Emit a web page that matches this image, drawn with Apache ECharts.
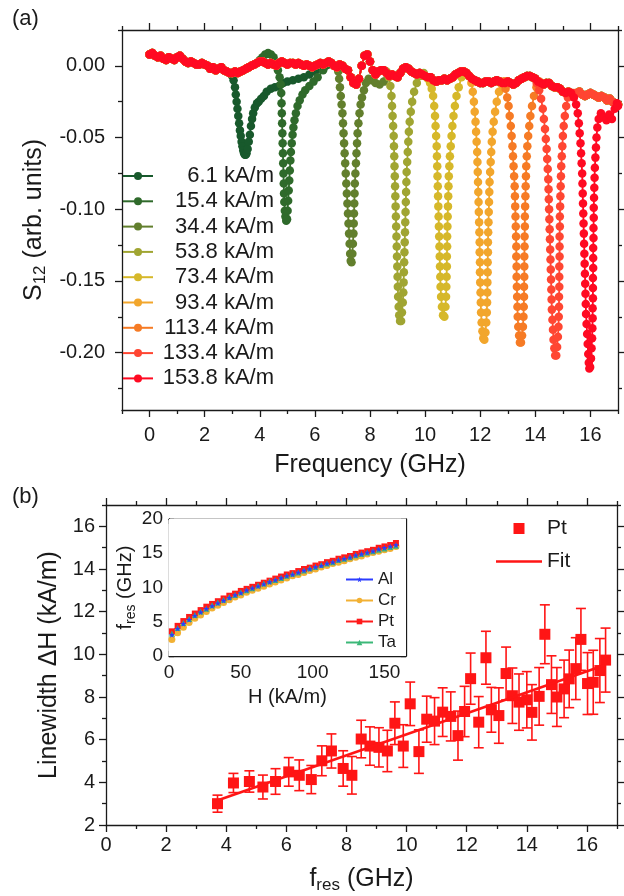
<!DOCTYPE html>
<html>
<head>
<meta charset="utf-8">
<script src="https://cdn.jsdelivr.net/npm/echarts@6/dist/echarts.min.js"></script>
<style>
  html, body { margin: 0; padding: 0; background: #fff; }
  #chart { width: 624px; height: 896px; }
</style>
</head>
<body>
<div id="chart"></div>
<script>
// ---------- panel (a): S12 vs frequency ----------
const fieldLabels = ['6.1 kA/m', '15.4 kA/m', '34.4 kA/m', '53.8 kA/m', '73.4 kA/m',
  '93.4 kA/m', '113.4 kA/m', '133.4 kA/m', '153.8 kA/m']
const fieldColors = ['#18592c', '#2f6a2b', '#627f2d', '#a0a532', '#d6b82a',
  '#f2a62c', '#f67b25', '#ff4632', '#ff0a22']

// off-resonance background, shared by all sweeps [GHz, S12]
const baseline = [
  [0.0, 0.008], [0.1, 0.009], [0.2, 0.007], [0.3, 0.006], [0.4, 0.007], [0.5, 0.005], [0.6, 0.004], [0.7, 0.006], [0.8, 0.005], [0.9, 0.004],
  [1.0, 0.006], [1.1, 0.007], [1.2, 0.005], [1.3, 0.003], [1.4, 0.002], [1.5, 0.003], [1.6, 0.002], [1.7, 0.001], [1.8, 0.001], [1.9, 0.002],
  [2.0, 0.001], [2.1, 0.000], [2.2, -0.002], [2.3, -0.001], [2.4, -0.003], [2.5, -0.002], [2.6, -0.001], [2.7, -0.003], [2.8, -0.004], [2.9, -0.005],
  [3.0, -0.005], [3.1, -0.004], [3.2, -0.005], [3.3, -0.004], [3.4, -0.003], [3.5, -0.002], [3.6, -0.001], [3.7, 0.000], [3.8, 0.001], [3.9, 0.002],
  [4.0, 0.003], [4.1, 0.003], [4.2, 0.002], [4.3, 0.001], [4.4, 0.002], [4.5, 0.001], [4.6, 0.000], [4.7, 0.002], [4.8, 0.003], [4.9, 0.002],
  [5.0, 0.001], [5.1, 0.002], [5.2, 0.002], [5.3, 0.001], [5.4, 0.002], [5.5, 0.001], [5.6, 0.000], [5.7, 0.001], [5.8, 0.000], [5.9, -0.001],
  [6.0, 0.000], [6.1, 0.001], [6.2, 0.002], [6.3, 0.001], [6.4, 0.002], [6.5, 0.003], [6.6, 0.002], [6.7, 0.000], [6.8, -0.001], [6.9, 0.001],
  [7.0, 0.000], [7.1, -0.002], [7.2, -0.003], [7.3, -0.008], [7.4, -0.012], [7.5, -0.013], [7.6, -0.009], [7.7, 0.000], [7.8, 0.007], [7.9, 0.008],
  [8.0, 0.003], [8.1, -0.003], [8.2, -0.006], [8.3, -0.004], [8.4, -0.003], [8.5, -0.003], [8.6, -0.005], [8.7, -0.007], [8.8, -0.006], [8.9, -0.007],
  [9.0, -0.008], [9.1, -0.005], [9.2, -0.002], [9.3, -0.001], [9.4, -0.002], [9.5, -0.004], [9.6, -0.005], [9.7, -0.006], [9.8, -0.005], [9.9, -0.006],
  [10.0, -0.007], [10.1, -0.008], [10.2, -0.008], [10.3, -0.010], [10.4, -0.011], [10.5, -0.010], [10.6, -0.010], [10.7, -0.009], [10.8, -0.010], [10.9, -0.009],
  [11.0, -0.008], [11.1, -0.006], [11.2, -0.005], [11.3, -0.004], [11.4, -0.004], [11.5, -0.005], [11.6, -0.007], [11.7, -0.009], [11.8, -0.010], [11.9, -0.011],
  [12.0, -0.012], [12.1, -0.012], [12.2, -0.011], [12.3, -0.011], [12.4, -0.012], [12.5, -0.011], [12.6, -0.010], [12.7, -0.011], [12.8, -0.012], [12.9, -0.012],
  [13.0, -0.011], [13.1, -0.012], [13.2, -0.013], [13.3, -0.012], [13.4, -0.010], [13.5, -0.009], [13.6, -0.008], [13.7, -0.007], [13.8, -0.007], [13.9, -0.008],
  [14.0, -0.009], [14.1, -0.011], [14.2, -0.012], [14.3, -0.013], [14.4, -0.012], [14.5, -0.012], [14.6, -0.014], [14.7, -0.015], [14.8, -0.015], [14.9, -0.016],
  [15.0, -0.018], [15.1, -0.019], [15.2, -0.018], [15.3, -0.019], [15.4, -0.020], [15.5, -0.019], [15.6, -0.018], [15.7, -0.020], [15.8, -0.021], [15.9, -0.020],
  [16.0, -0.019], [16.1, -0.020], [16.2, -0.021], [16.3, -0.022], [16.4, -0.021], [16.5, -0.022], [16.6, -0.024], [16.7, -0.023], [16.8, -0.025], [16.9, -0.026], [17.0, -0.027]
]

// resonance dips, one per field [GHz, S12]
const dip6_1 = [[2.95, -0.005], [3.0, -0.007], [3.05, -0.010], [3.1, -0.015], [3.13, -0.020], [3.16, -0.025], [3.19, -0.030], [3.22, -0.035],
  [3.25, -0.040], [3.28, -0.045], [3.31, -0.049], [3.34, -0.053], [3.37, -0.056], [3.40, -0.059], [3.43, -0.061], [3.46, -0.062], [3.49, -0.062],
  [3.52, -0.061], [3.56, -0.058], [3.60, -0.053], [3.64, -0.048], [3.68, -0.042], [3.72, -0.037], [3.76, -0.033], [3.82, -0.029], [3.90, -0.026],
  [3.96, -0.025], [4.05, -0.023], [4.15, -0.021], [4.25, -0.018], [4.40, -0.016], [4.55, -0.015], [4.70, -0.014], [4.85, -0.012], [5.0, -0.011],
  [5.2, -0.010], [5.4, -0.009], [5.6, -0.008], [5.8, -0.006], [6.0, -0.004], [6.2, -0.002], [6.4, 0.000]]
const dip15_4 = [[4.0, 0.004], [4.1, 0.006], [4.2, 0.008], [4.3, 0.009], [4.4, 0.008], [4.5, 0.006], [4.6, 0.002], [4.66, -0.003], [4.72, -0.008],
  [4.76, -0.013], [4.78, -0.019], [4.79, -0.026], [4.80, -0.033], [4.81, -0.040], [4.82, -0.047], [4.83, -0.054], [4.84, -0.061], [4.85, -0.068],
  [4.86, -0.075], [4.87, -0.082], [4.88, -0.089], [4.89, -0.095], [4.91, -0.101], [4.93, -0.105], [4.96, -0.108],
  [4.99, -0.107], [5.01, -0.101], [5.03, -0.094], [5.05, -0.087], [5.07, -0.080], [5.09, -0.073], [5.11, -0.066], [5.13, -0.060], [5.16, -0.054],
  [5.19, -0.048], [5.22, -0.043], [5.26, -0.038], [5.31, -0.033], [5.37, -0.028], [5.45, -0.024], [5.55, -0.020], [5.65, -0.017], [5.8, -0.014],
  [5.95, -0.011], [6.1, -0.008], [6.3, -0.003], [6.5, 0.001]]
const dip34_4 = [[6.8, -0.001], [6.85, -0.004], [6.88, -0.009], [6.91, -0.015], [6.94, -0.021], [6.97, -0.027], [7.0, -0.033], [7.02, -0.040],
  [7.04, -0.047], [7.06, -0.054], [7.08, -0.061], [7.10, -0.068], [7.12, -0.075], [7.14, -0.082], [7.16, -0.089], [7.18, -0.096], [7.20, -0.103],
  [7.22, -0.110], [7.24, -0.117], [7.26, -0.124], [7.28, -0.131], [7.30, -0.136],
  [7.33, -0.137], [7.36, -0.131], [7.38, -0.124], [7.40, -0.117], [7.41, -0.110], [7.42, -0.103], [7.43, -0.096], [7.44, -0.089], [7.45, -0.082],
  [7.47, -0.075], [7.49, -0.068], [7.51, -0.061], [7.53, -0.054], [7.55, -0.047], [7.58, -0.040], [7.62, -0.033], [7.66, -0.027], [7.71, -0.022],
  [7.78, -0.017], [7.85, -0.012], [7.95, -0.009], [8.05, -0.010], [8.2, -0.012], [8.35, -0.013], [8.5, -0.011], [8.65, -0.008]]
const dip53_8 = [[8.6, -0.004], [8.68, -0.008], [8.74, -0.014], [8.78, -0.021], [8.80, -0.028], [8.82, -0.035], [8.84, -0.042], [8.86, -0.049],
  [8.87, -0.056], [8.88, -0.063], [8.89, -0.070], [8.90, -0.077], [8.91, -0.084], [8.92, -0.091], [8.93, -0.098], [8.94, -0.105], [8.95, -0.112],
  [8.96, -0.119], [8.97, -0.126], [8.98, -0.133], [8.99, -0.140], [9.00, -0.147], [9.01, -0.154], [9.02, -0.161], [9.04, -0.168], [9.06, -0.174],
  [9.09, -0.178],
  [9.13, -0.178], [9.16, -0.172], [9.19, -0.165], [9.21, -0.158], [9.22, -0.151], [9.23, -0.144], [9.24, -0.137], [9.25, -0.130], [9.26, -0.123],
  [9.27, -0.116], [9.28, -0.109], [9.29, -0.102], [9.30, -0.095], [9.31, -0.088], [9.32, -0.081], [9.33, -0.074], [9.35, -0.067], [9.37, -0.060],
  [9.39, -0.053], [9.41, -0.046], [9.44, -0.039], [9.48, -0.032], [9.53, -0.025], [9.6, -0.018], [9.7, -0.012], [9.82, -0.007], [9.95, -0.005]]
const dip73_4 = [[10.1, -0.009], [10.18, -0.012], [10.24, -0.016], [10.29, -0.021], [10.33, -0.028], [10.36, -0.035], [10.38, -0.042],
  [10.40, -0.049], [10.42, -0.056], [10.43, -0.063], [10.44, -0.070], [10.45, -0.077], [10.46, -0.084], [10.47, -0.091], [10.48, -0.098],
  [10.49, -0.105], [10.50, -0.112], [10.51, -0.119], [10.52, -0.126], [10.53, -0.133], [10.54, -0.140], [10.55, -0.147], [10.56, -0.154],
  [10.58, -0.161], [10.61, -0.168], [10.65, -0.174],
  [10.70, -0.175], [10.74, -0.168], [10.76, -0.161], [10.77, -0.154], [10.78, -0.147], [10.79, -0.140], [10.79, -0.133], [10.80, -0.126],
  [10.80, -0.119], [10.81, -0.112], [10.82, -0.105], [10.83, -0.098], [10.84, -0.091], [10.85, -0.084], [10.86, -0.077], [10.88, -0.070],
  [10.90, -0.063], [10.93, -0.056], [10.96, -0.049], [10.99, -0.042], [11.03, -0.035], [11.08, -0.028], [11.14, -0.021], [11.22, -0.015],
  [11.32, -0.008], [11.42, -0.004]]
const dip93_4 = [[11.6, -0.007], [11.68, -0.012], [11.73, -0.018], [11.77, -0.025], [11.80, -0.032], [11.83, -0.039], [11.85, -0.046],
  [11.87, -0.053], [11.89, -0.060], [11.90, -0.067], [11.91, -0.074], [11.92, -0.081], [11.93, -0.088], [11.94, -0.095], [11.95, -0.102],
  [11.96, -0.109], [11.97, -0.116], [11.98, -0.123], [11.98, -0.130], [11.99, -0.137], [11.99, -0.144], [12.00, -0.151], [12.01, -0.158],
  [12.02, -0.165], [12.03, -0.172], [12.05, -0.179], [12.08, -0.185], [12.11, -0.190],
  [12.15, -0.191], [12.19, -0.186], [12.22, -0.179], [12.24, -0.172], [12.25, -0.165], [12.26, -0.158], [12.26, -0.151], [12.27, -0.144],
  [12.27, -0.137], [12.28, -0.130], [12.28, -0.123], [12.29, -0.116], [12.30, -0.109], [12.31, -0.102], [12.32, -0.095], [12.33, -0.088],
  [12.34, -0.081], [12.36, -0.074], [12.38, -0.067], [12.40, -0.060], [12.42, -0.053], [12.45, -0.046], [12.49, -0.039], [12.54, -0.032],
  [12.60, -0.025], [12.68, -0.018], [12.78, -0.013], [12.9, -0.011]]
const dip113_4 = [[12.85, -0.011], [12.92, -0.016], [12.98, -0.022], [13.03, -0.028], [13.07, -0.035], [13.11, -0.042], [13.14, -0.049],
  [13.17, -0.056], [13.19, -0.063], [13.21, -0.070], [13.23, -0.077], [13.25, -0.084], [13.26, -0.091], [13.27, -0.098], [13.28, -0.105],
  [13.29, -0.112], [13.30, -0.119], [13.31, -0.126], [13.31, -0.133], [13.32, -0.140], [13.32, -0.147], [13.33, -0.154], [13.34, -0.161],
  [13.35, -0.168], [13.36, -0.175], [13.38, -0.182], [13.41, -0.188], [13.44, -0.193],
  [13.48, -0.193], [13.52, -0.188], [13.55, -0.182], [13.57, -0.175], [13.58, -0.168], [13.59, -0.161], [13.59, -0.154], [13.60, -0.147],
  [13.60, -0.140], [13.60, -0.133], [13.61, -0.126], [13.61, -0.119], [13.62, -0.112], [13.62, -0.105], [13.63, -0.098], [13.64, -0.091],
  [13.65, -0.084], [13.66, -0.077], [13.67, -0.070], [13.69, -0.063], [13.71, -0.056], [13.74, -0.049], [13.78, -0.042], [13.82, -0.035],
  [13.88, -0.028], [13.95, -0.021], [14.04, -0.015], [14.15, -0.011]]
const dip133_4 = [[14.05, -0.012], [14.14, -0.017], [14.21, -0.023], [14.27, -0.030], [14.31, -0.037], [14.35, -0.044], [14.38, -0.051],
  [14.41, -0.058], [14.43, -0.065], [14.45, -0.072], [14.47, -0.079], [14.48, -0.086], [14.49, -0.093], [14.50, -0.100], [14.51, -0.107],
  [14.52, -0.114], [14.53, -0.121], [14.54, -0.128], [14.55, -0.135], [14.56, -0.142], [14.57, -0.149], [14.58, -0.156], [14.59, -0.163],
  [14.60, -0.170], [14.62, -0.177], [14.64, -0.184], [14.66, -0.191], [14.69, -0.197], [14.72, -0.202],
  [14.76, -0.202], [14.79, -0.196], [14.82, -0.189], [14.84, -0.182], [14.85, -0.175], [14.86, -0.168], [14.86, -0.161], [14.87, -0.154],
  [14.87, -0.147], [14.87, -0.140], [14.88, -0.133], [14.88, -0.126], [14.88, -0.119], [14.89, -0.112], [14.89, -0.105], [14.90, -0.098],
  [14.91, -0.091], [14.92, -0.084], [14.93, -0.077], [14.94, -0.070], [14.96, -0.063], [14.98, -0.056], [15.00, -0.049], [15.03, -0.042],
  [15.07, -0.035], [15.12, -0.028], [15.18, -0.022], [15.28, -0.019], [15.4, -0.019]]
const dip153_8 = [[15.3, -0.019], [15.4, -0.022], [15.48, -0.027], [15.54, -0.033], [15.58, -0.040], [15.61, -0.047], [15.64, -0.054],
  [15.66, -0.061], [15.68, -0.068], [15.70, -0.075], [15.71, -0.082], [15.72, -0.089], [15.73, -0.096], [15.74, -0.103], [15.75, -0.110],
  [15.76, -0.117], [15.77, -0.124], [15.78, -0.131], [15.79, -0.138], [15.80, -0.145], [15.81, -0.152], [15.82, -0.159], [15.83, -0.166],
  [15.84, -0.173], [15.86, -0.180], [15.88, -0.187], [15.90, -0.194], [15.92, -0.201], [15.94, -0.207], [15.96, -0.211],
  [15.99, -0.210], [16.02, -0.204], [16.04, -0.197], [16.06, -0.190], [16.07, -0.183], [16.08, -0.176], [16.08, -0.169], [16.09, -0.162],
  [16.09, -0.155], [16.09, -0.148], [16.10, -0.141], [16.10, -0.134], [16.10, -0.127], [16.11, -0.120], [16.11, -0.113], [16.12, -0.106],
  [16.12, -0.099], [16.13, -0.092], [16.14, -0.085], [16.15, -0.078], [16.16, -0.071], [16.18, -0.064], [16.20, -0.057], [16.22, -0.050],
  [16.25, -0.043], [16.30, -0.037], [16.38, -0.033], [16.48, -0.036], [16.58, -0.038], [16.68, -0.034], [16.78, -0.037], [16.88, -0.030],
  [16.96, -0.026], [17.0, -0.028]]

const aXMajor = [0, 2, 4, 6, 8, 10, 12, 14, 16]
const aXMinor = [-1, 1, 3, 5, 7, 9, 11, 13, 15, 17]
const aYMajor = [-0.20, -0.15, -0.10, -0.05, 0.00]
const aYMinor = [-0.225, -0.175, -0.125, -0.075, -0.025, 0.025]

// ---------- panel (b): linewidth vs resonance frequency (Pt) ----------
const fresPt = [3.71, 4.24, 4.77, 5.22, 5.64, 6.08, 6.43, 6.83, 7.18, 7.5, 7.89, 8.18, 8.49, 8.78, 9.08, 9.36, 9.61, 9.89,
  10.12, 10.41, 10.67, 10.93, 11.2, 11.47, 11.71, 11.93, 12.13, 12.4, 12.64, 12.82, 13.07, 13.31, 13.52, 13.74, 14.0, 14.17,
  14.41, 14.6, 14.82, 15.0, 15.24, 15.41, 15.63, 15.8, 16.02, 16.21, 16.43, 16.62]
const dHPt = [3.0, 3.97, 4.04, 3.78, 4.04, 4.49, 4.33, 4.13, 5.01, 5.47, 4.65, 4.33, 6.03, 5.7, 5.64, 5.47, 6.77, 5.7,
  7.68, 5.44, 6.96, 6.87, 7.29, 7.09, 6.19, 7.32, 8.86, 6.82, 9.84, 7.4, 7.13, 9.1, 8.06, 7.76, 7.87, 7.28,
  8.03, 10.94, 8.58, 8.0, 8.38, 8.85, 9.33, 10.7, 8.63, 8.69, 9.24, 9.73]
const dHErr = [0.4, 0.45, 0.5, 0.56, 0.6, 0.67, 0.72, 0.66, 0.7, 0.8, 0.83, 0.88, 0.88, 0.9, 0.92, 0.97, 1.0, 1.0,
  1.02, 1.02, 1.08, 1.1, 1.14, 1.15, 1.15, 1.18, 1.2, 1.2, 1.24, 1.05, 1.3, 1.24, 1.3, 1.32, 1.32, 1.3,
  1.35, 1.38, 1.35, 1.38, 1.35, 1.35, 1.45, 1.45, 1.45, 1.5, 1.5, 1.5]
const fitF = [3.7, 16.6]
const fitDH = [3.15, 9.5]

const bXMajor = [0, 2, 4, 6, 8, 10, 12, 14, 16]
const bXMinor = [1, 3, 5, 7, 9, 11, 13, 15, 17]
const bYMajor = [2, 4, 6, 8, 10, 12, 14, 16]
const bYMinor = [3, 5, 7, 9, 11, 13, 15, 17]

// ---------- inset: f_res vs H ----------
const insetH = [2, 6, 10, 14, 18, 22, 26, 30, 34, 38, 42, 46, 50, 54, 58, 62, 66, 70, 74, 78,
  82, 86, 90, 94, 98, 102, 106, 110, 114, 118, 122, 126, 130, 134, 138, 142, 146, 150, 154, 158]
const fAl = [3.1, 4.0, 4.7, 5.3, 5.9, 6.4, 6.9, 7.3, 7.7, 8.1, 8.5, 8.9, 9.2, 9.6, 9.9, 10.2, 10.5, 10.8, 11.1, 11.4,
  11.7, 11.9, 12.2, 12.5, 12.7, 13.0, 13.2, 13.5, 13.7, 14.0, 14.2, 14.4, 14.7, 14.9, 15.1, 15.3, 15.6, 15.8, 16.0, 16.2]
const fCr = [2.4, 3.4, 4.2, 4.9, 5.5, 6.0, 6.5, 7.0, 7.4, 7.8, 8.2, 8.6, 8.9, 9.3, 9.6, 9.9, 10.2, 10.5, 10.8, 11.1,
  11.4, 11.7, 11.9, 12.2, 12.5, 12.7, 13.0, 13.2, 13.5, 13.7, 13.9, 14.2, 14.4, 14.6, 14.9, 15.1, 15.3, 15.5, 15.7, 16.0]
const fPt = [3.6, 4.4, 5.1, 5.7, 6.2, 6.7, 7.2, 7.6, 8.0, 8.4, 8.8, 9.1, 9.5, 9.8, 10.1, 10.4, 10.7, 11.0, 11.3, 11.6,
  11.9, 12.1, 12.4, 12.7, 12.9, 13.2, 13.4, 13.7, 13.9, 14.2, 14.4, 14.6, 14.9, 15.1, 15.3, 15.5, 15.8, 16.0, 16.2, 16.5]
const fTa = [3.3, 4.1, 4.8, 5.4, 6.0, 6.5, 6.9, 7.4, 7.8, 8.2, 8.6, 8.9, 9.3, 9.6, 9.9, 10.3, 10.6, 10.9, 11.1, 11.4,
  11.7, 12.0, 12.2, 12.5, 12.8, 13.0, 13.3, 13.5, 13.7, 14.0, 14.2, 14.4, 14.7, 14.9, 15.1, 15.3, 15.5, 15.7, 15.9, 16.1]

const inXMajor = [0, 50, 100, 150]
const inXMinor = [25, 75, 125]
const inYMajor = [0, 5, 10, 15, 20]
const inYMinor = [2.5, 7.5, 12.5, 17.5]

// ---------- styling ----------
const FONT = 'Liberation Sans, Arial, sans-serif'
const INK = '#1a1a1a'
const RED = '#ff1515'
const STAR = 'path://M50,0 L61,35 L98,35 L68,57 L79,91 L50,70 L21,91 L32,57 L2,35 L39,35 Z'

// four axes per side pair: main (labels + major ticks), minor ticks, mirrored major, mirrored minor
function frameAxes (dim, grid, min, max, majors, minors, o) {
  const sides = dim === 'x' ? ['bottom', 'top'] : ['left', 'right']
  const tickLine = { color: INK, width: 1.3 }
  const axes = []
  sides.forEach((side, k) => {
    const label = { show: false }
    if (k === 0) {
      Object.assign(label, { show: true, customValues: majors, margin: o.margin, fontSize: o.fontSize, color: INK, fontFamily: FONT })
      if (o.fmt) label.formatter = o.fmt
    }
    axes.push({
      gridIndex: grid, type: 'value', position: side, min: min, max: max,
      axisLine: { show: true, onZero: false, lineStyle: { color: INK, width: 1.3 } },
      axisTick: { show: true, inside: o.inside, length: o.major, customValues: majors, lineStyle: tickLine },
      axisLabel: label,
      splitLine: { show: false },
      name: k === 0 ? o.name : '',
      nameLocation: 'middle',
      nameGap: o.nameGap,
      nameTextStyle: o.nameStyle
    })
    axes.push({
      gridIndex: grid, type: 'value', position: side, min: min, max: max,
      axisLine: { show: false, onZero: false },
      axisTick: { show: true, inside: o.inside, length: o.minor, customValues: minors, lineStyle: tickLine },
      axisLabel: { show: false },
      splitLine: { show: false }
    })
  })
  return axes
}

function subRich (size, subSize, drop) {
  return {
    rich: {
      m: { fontSize: size, fontFamily: FONT, color: INK, lineHeight: size + 4 },
      s: { fontSize: subSize, fontFamily: FONT, color: INK, lineHeight: subSize, verticalAlign: 'bottom', padding: [drop, 0, 0, 0] }
    }
  }
}

// ---------- series ----------
const dips = [dip6_1, dip15_4, dip34_4, dip53_8, dip73_4, dip93_4, dip113_4, dip133_4, dip153_8]
const sweepSeries = fieldLabels.map((label, i) => {
  const dip = dips[i]
  const lo = dip[0][0]
  const hi = dip[dip.length - 1][0]
  const data = baseline.filter(p => p[0] < lo).concat(dip, baseline.filter(p => p[0] > hi))
  return {
    name: label, type: 'line', xAxisIndex: 0, yAxisIndex: 0, data: data,
    symbol: 'circle', symbolSize: 8.5, showSymbol: true, showAllSymbol: true,
    itemStyle: { color: fieldColors[i] },
    lineStyle: { color: fieldColors[i], width: 1.8 },
    emphasis: { disabled: true }
  }
})

function renderErrorBar (params, api) {
  const top = api.coord([api.value(0), api.value(2)])
  const bottom = api.coord([api.value(0), api.value(1)])
  const cap = 5
  const style = { stroke: RED, lineWidth: 1.6 }
  return {
    type: 'group',
    children: [
      { type: 'line', shape: { x1: top[0], y1: top[1], x2: bottom[0], y2: bottom[1] }, style: style },
      { type: 'line', shape: { x1: top[0] - cap, y1: top[1], x2: top[0] + cap, y2: top[1] }, style: style },
      { type: 'line', shape: { x1: bottom[0] - cap, y1: bottom[1], x2: bottom[0] + cap, y2: bottom[1] }, style: style }
    ]
  }
}

const insetSpecs = [
  { name: 'Cr', values: fCr, color: '#f2b134', symbol: 'circle', size: 7 },
  { name: 'Pt', values: fPt, color: '#ff1a1a', symbol: 'rect', size: 6 },
  { name: 'Ta', values: fTa, color: '#3cb878', symbol: 'triangle', size: 6 },
  { name: 'Al', values: fAl, color: '#2b3cff', symbol: STAR, size: 6 }
]
const insetSeries = insetSpecs.map(s => ({
  name: s.name, type: 'line', xAxisIndex: 8, yAxisIndex: 8,
  data: insetH.map((h, i) => [h, s.values[i]]),
  symbol: s.symbol, symbolSize: s.size, showSymbol: true, showAllSymbol: true,
  itemStyle: { color: s.color }, lineStyle: { color: s.color, width: 1 },
  emphasis: { disabled: true }, z: 5
}))

const chart = echarts.init(document.getElementById('chart'), null, { renderer: 'canvas' })
chart.setOption({
  animation: false,
  backgroundColor: '#fff',
  textStyle: { fontFamily: FONT },
  title: [
    { text: '(a)', left: 12, top: 8, padding: 0, textStyle: { fontSize: 22, fontWeight: 'normal', color: INK, fontFamily: FONT } },
    { text: '(b)', left: 12, top: 486, padding: 0, textStyle: { fontSize: 22, fontWeight: 'normal', color: INK, fontFamily: FONT } }
  ],
  grid: [
    { left: 122, top: 30, width: 496, height: 380, outerBoundsMode: 'none' },
    { left: 106, top: 505, width: 511, height: 320, outerBoundsMode: 'none' },
    { left: 169, top: 519, width: 237, height: 137, show: true, backgroundColor: '#fff', borderWidth: 0, outerBoundsMode: 'none', z: 3 }
  ],
  xAxis: [].concat(
    frameAxes('x', 0, -1, 17, aXMajor, aXMinor, { inside: false, major: 7, minor: 4, margin: 15, fontSize: 20,
      name: 'Frequency (GHz)', nameGap: 43, nameStyle: { fontSize: 25, color: INK, fontFamily: FONT } }),
    frameAxes('x', 1, 0, 17, bXMajor, bXMinor, { inside: false, major: 7, minor: 4, margin: 10, fontSize: 20,
      name: '{m|f}{s|res}{m| (GHz)}', nameGap: 40, nameStyle: subRich(25, 17, 10) }),
    frameAxes('x', 2, 0, 165, inXMajor, inXMinor, { inside: true, major: 5, minor: 3, margin: 7, fontSize: 19,
      name: 'H (kA/m)', nameGap: 31, nameStyle: { fontSize: 20, color: INK, fontFamily: FONT } })
  ),
  yAxis: [].concat(
    frameAxes('y', 0, -0.24, 0.025, aYMajor, aYMinor, { inside: false, major: 7, minor: 4, margin: 17, fontSize: 20,
      fmt: v => v.toFixed(2),
      name: '{m|S}{s|12}{m| (arb. units)}', nameGap: 70, nameStyle: subRich(25, 17, 10) }),
    frameAxes('y', 1, 2, 17, bYMajor, bYMinor, { inside: false, major: 7, minor: 4, margin: 11, fontSize: 20,
      name: 'Linewidth ΔH (kA/m)', nameGap: 34, nameStyle: { fontSize: 25, color: INK, fontFamily: FONT } }),
    frameAxes('y', 2, 0, 20, inYMajor, inYMinor, { inside: true, major: 5, minor: 3, margin: 6, fontSize: 19,
      name: '{m|f}{s|res}{m| (GHz)}', nameGap: 24, nameStyle: subRich(20, 14, 8) })
  ),
  legend: [
    {
      left: 122, top: 165, padding: 0, orient: 'vertical', itemWidth: 30, itemHeight: 10, itemGap: 3.3,
      selectedMode: false, data: fieldLabels,
      formatter: n => '{a|' + n + '}',
      textStyle: { rich: { a: { width: 116, align: 'right', fontSize: 22, lineHeight: 24, color: INK, fontFamily: FONT } } }
    },
    {
      left: 496, top: 518, padding: 0, orient: 'vertical', itemWidth: 46, itemHeight: 11, itemGap: 12,
      selectedMode: false,
      data: [{ name: 'Linewidth Pt', icon: 'path://M0,0H10V10H0Z' }, { name: 'Fit', icon: 'path://M0,0H46V2.5H0Z' }],
      formatter: n => (n === 'Linewidth Pt' ? 'Pt' : n),
      textStyle: { fontSize: 21, color: INK, fontFamily: FONT }
    },
    {
      left: 345, top: 571, padding: 0, orient: 'vertical', itemWidth: 27, itemHeight: 7, itemGap: 4,
      selectedMode: false, data: ['Al', 'Cr', 'Pt', 'Ta'], z: 6,
      textStyle: { fontSize: 17, lineHeight: 17, color: INK, fontFamily: FONT }
    }
  ],
  series: sweepSeries.concat([
    {
      name: 'Fit', type: 'line', xAxisIndex: 4, yAxisIndex: 4,
      data: fitF.map((f, i) => [f, fitDH[i]]),
      showSymbol: false, symbol: 'none', lineStyle: { color: RED, width: 2.5 }, itemStyle: { color: RED },
      emphasis: { disabled: true }
    },
    {
      name: 'error', type: 'custom', xAxisIndex: 4, yAxisIndex: 4,
      data: fresPt.map((f, i) => [f, dHPt[i] - dHErr[i], dHPt[i] + dHErr[i]]),
      encode: { x: 0, y: [1, 2] },
      renderItem: renderErrorBar
    },
    {
      name: 'Linewidth Pt', type: 'scatter', xAxisIndex: 4, yAxisIndex: 4,
      data: fresPt.map((f, i) => [f, dHPt[i]]),
      symbol: 'rect', symbolSize: 11, itemStyle: { color: RED, opacity: 1 },
      emphasis: { disabled: true }
    }
  ], insetSeries)
})
</script>
</body>
</html>
